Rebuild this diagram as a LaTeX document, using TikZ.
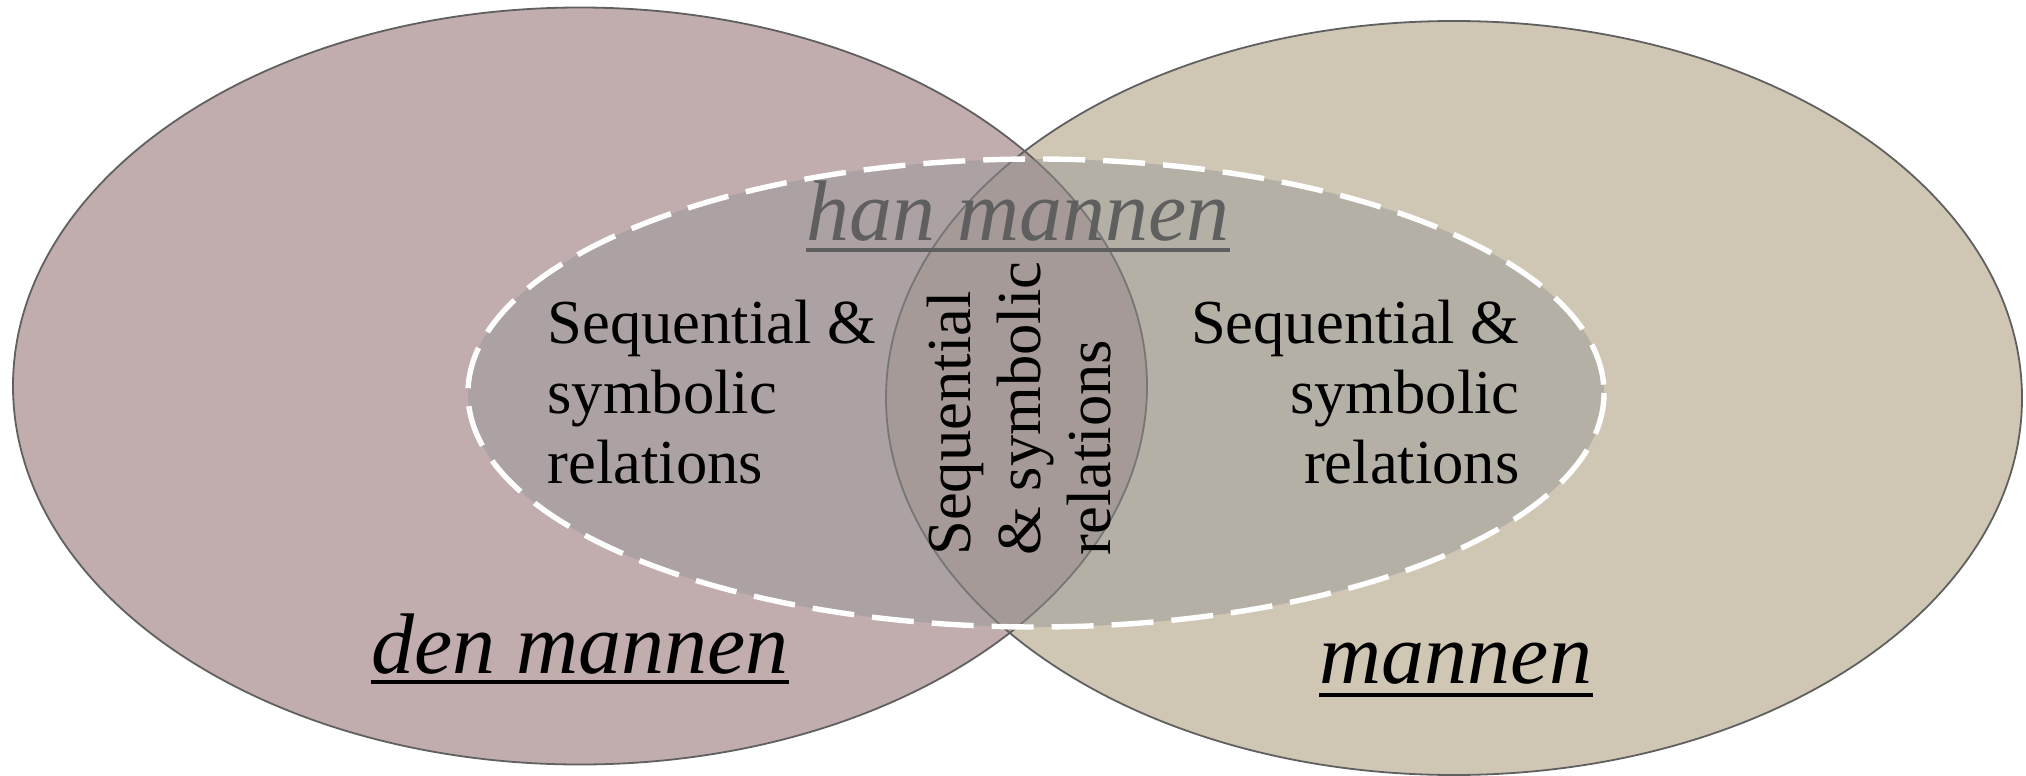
\documentclass[tikz,border=0pt]{standalone}
\usepackage{fontspec}
\setmainfont{Liberation Serif}
\definecolor{leftc}{HTML}{C1ADAE}
\definecolor{rightc}{HTML}{CFC6B4}
\definecolor{lensc}{HTML}{B39F99}
\definecolor{veil}{HTML}{939595}
\definecolor{rimc}{HTML}{606060}
\definecolor{hanc}{HTML}{5F5F5F}
\begin{document}
\begin{tikzpicture}[x=0.5pt,y=-0.5pt,
  rim/.style={draw=rimc, line width=0.9pt},
  body/.style={font=\fontsize{31.3}{35}\selectfont, inner sep=0pt, text=black},
  title/.style={font=\fontsize{43}{50}\selectfont\itshape, inner sep=0pt, anchor=base},
  uline/.style={line width=1.7pt}]
\useasboundingbox (0,0) rectangle (2026,776);
% fills
\path[fill=leftc] (580,386) ellipse [x radius=567, y radius=378.5];
\path[fill=rightc] (1454,398) ellipse [x radius=568, y radius=377];
\begin{scope}
  \clip (580,386) ellipse [x radius=567, y radius=378.5];
  \path[fill=lensc] (1454,398) ellipse [x radius=568, y radius=377];
\end{scope}
% outlines
\draw[rim] (580,386) ellipse [x radius=567, y radius=378.5];
\draw[rim] (1454,398) ellipse [x radius=568, y radius=377];
% inner dashed ellipse
\path[fill=veil, fill opacity=0.43] (1036,393) ellipse [x radius=568, y radius=234];
\draw[white, line width=2.7pt, dash pattern=on 21pt off 9pt] (1036,393) ellipse [x radius=568, y radius=234];
% texts
\node[title, text=hanc] (han) at (1018,240) {han mannen};
\draw[uline, draw=hanc] ([yshift=-5pt]han.base west) -- ([yshift=-5pt]han.base east);
\node[title] (den) at (580,673) {den mannen};
\draw[uline] ([yshift=-4.5pt]den.base west) -- ([yshift=-4.5pt]den.base east);
\node[title] (man) at (1456,683) {mannen};
\draw[uline] ([yshift=-6pt]man.base west) -- ([yshift=-6pt]man.base east);
\node[body, align=left, anchor=north west] (lt) at (547,300) {Sequential \&\\symbolic\\relations};
\node[body, align=right, anchor=north east] (rt) at (1520,300) {Sequential \&\\symbolic\\relations};
\node[body, align=left, rotate=90, anchor=north west] (mid) at (927,556) {Sequential\\\& symbolic\\relations};
\end{tikzpicture}
\end{document}
